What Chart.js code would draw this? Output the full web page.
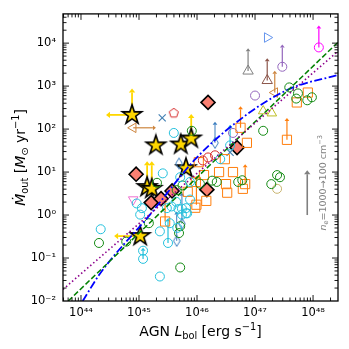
<!DOCTYPE html>
<html>
<head>
<meta charset="utf-8">
<script src="https://cdn.jsdelivr.net/npm/chart.js@4.4.1/dist/chart.umd.min.js"></script>
<style>
  html, body { margin: 0; padding: 0; background: #fff; }
  #c { display: block; }
</style>
</head>
<body>
<canvas id="c" width="349" height="349"></canvas>
<script>
// all values are log10(L_bol / erg s^-1) and log10(Mdot / Msun yr^-1)
const xDecades = [44, 45, 46, 47, 48];
const yDecades = [-2, -1, 0, 1, 2, 3, 4];
const X_MIN = 43.69, X_MAX = 48.43, Y_MIN = -2, Y_MAX = 4.68;

// gold stars
const starL = [44.88, 45.29, 45.72, 45.90, 45.81, 45.14, 45.22, 45.02];
const starM = [2.33, 1.62, 1.64, 1.78, 1.09, 0.65, 0.61, -0.49];
const starUpTo = [2.85, null, null, 2.26, null, 1.16, 1.16, null];
const starLeftTo = [44.50, null, null, null, null, null, null, 44.64];

// salmon diamonds
const diaL = [46.19, 46.69, 44.95, 45.57, 46.17, 45.21, 45.38];
const diaM = [2.62, 1.57, 0.95, 0.56, 0.59, 0.29, 0.38];

// cyan open circles
const cyanL = [44.34, 45.07, 45.36, 45.36, 45.50, 45.53, 45.41, 46.40, 45.74, 45.81, 45.64, 45.88, 45.02, 45.60,
               44.96, 45.05, 45.48, 45.56, 45.68, 45.74, 45.81, 45.83, 45.71, 46.57, 45.88, 45.07, 45.66];
const cyanM = [-0.33, -0.83, -1.43, -0.38, -0.65, -0.19, 0.97, 1.30, 0.15, 0.04, 0.31, 0.36, 0.01, 1.91,
               0.27, 0.16, 0.16, 0.20, 0.14, 0.01, 0.16, 0.04, 0.88, 1.62, 0.77, -1.02, -0.30];
const cyanUpTo = [null, null, null, null, -0.15, null, null, null, null, null, null, null, null, null,
                  null, null, null, null, null, null, null, null, null, 2.03, null, -0.83, null];

// green open circles
const greenL = [44.31, 45.17, 45.71, 45.69, 46.71, 46.34, 46.78, 47.28, 47.38, 47.43, 45.71, 45.31, 45.91, 47.59, 47.74, 47.90, 47.98, 47.71, 47.14,
                45.65, 45.75, 46.05, 46.26, 44.78];
const greenM = [-0.65, -0.19, -1.22, -0.42, 0.77, 0.77, 0.81, 0.72, 0.93, 0.88, -0.26, 0.75, 1.96, 2.97, 2.83, 2.67, 2.74, 2.71, 1.96,
                0.58, 0.69, 0.73, 0.80, -0.62];

// orange open squares
const orL = [46.03, 45.98, 46.12, 46.38, 46.62, 46.50, 46.52, 46.16, 45.84, 45.97, 46.48, 46.83, 46.79, 47.91, 47.72, 47.55,
             45.99, 45.45, 46.75, 46.86];
const orM = [1.23, 0.77, 0.93, 1.00, 1.00, 0.72, 0.52, 0.33, 0.54, 0.17, 1.30, 0.72, 0.61, 2.85, 2.62, 1.75,
             0.24, -0.15, 2.03, 1.68];
const orUpTo = [null, null, null, null, null, null, null, null, null, null, null, 1.11, null, null, null, 2.19,
                0.84, 0.30, 2.46, null];

// red open circles
const redL = [46.19, 46.31, 46.10];
const redM = [1.34, 1.39, 1.27];

// steelblue thin diamonds
const sdL = [45.69, 45.65, 46.31, 45.74];
const sdM = [1.20, -0.60, 1.68, -0.20];
const sdUpTo = [null, 0.01, 2.10, 0.45];

// single samples
const tanL = [44.90, 47.34], tanM = [2.03, 2.85], tanRightTo = [45.24, null], tanUpTo = [null, 3.29];
const crossL = [45.40, 46.57], crossM = [2.26, 1.46];
const pentL = [45.60], pentM = [2.37];
const pinkL = [44.90], pinkM = [0.36];
const cornL = [47.21], cornM = [4.13];
const magL = [48.10], magM = [3.90], magUpTo = [4.34];
const grayL = [46.88], grayM = [3.35], grayUpTo = [3.81];
const brownL = [47.21], brownM = [3.13], brownUpTo = [3.58];
const purpL = [47.47, 47.00, 46.62], purpM = [3.45, 2.78, 1.91], purpUpTo = [3.90, null, null];
const oliveL = [47.14, 47.29], oliveM = [2.42, 2.37];
const khakiL = [47.38], khakiM = [0.61];

// model curves
const blueL = [44.03, 44.33, 45.19, 45.97, 46.71, 47.57, 48.43];
const blueM = [-2.00, -1.36, 0.01, 1.30, 2.19, 2.92, 3.26];
const dashL = [43.78, 48.43];
const dashM = [-2.00, 4.02];
const dotL = [43.69, 48.43];
const dotM = [-1.73, 3.81];

// density arrow (n_e = 1000 -> 100 cm^-3)
const neL = 47.90, neFrom = 0.0, neTo = 0.95, neTextL = 48.16, neTextM = 0.75;

const P = v => Math.pow(10, v);
const pts = (L, M) => L.map((l, i) => ({ x: P(l), y: P(M[i]) }));

function marker(size, draw) {
  const c = document.createElement('canvas');
  c.width = c.height = size;
  const g = c.getContext('2d');
  g.translate(size / 2, size / 2);
  draw(g);
  return c;
}
const starImg = marker(26, g => {
  const R = 10.2, r = R * 0.382;
  g.beginPath();
  for (let k = 0; k < 10; k++) {
    const a = -Math.PI / 2 + k * Math.PI / 5, rr = k % 2 ? r : R;
    g.lineTo(rr * Math.cos(a), rr * Math.sin(a));
  }
  g.closePath();
  g.fillStyle = '#FFD700'; g.fill();
  g.lineWidth = 1.6; g.strokeStyle = '#000'; g.lineJoin = 'miter'; g.stroke();
});
const pentImg = marker(14, g => {
  g.beginPath();
  for (let k = 0; k < 5; k++) {
    const a = -Math.PI / 2 + k * 2 * Math.PI / 5;
    g.lineTo(4.8 * Math.cos(a), 4.8 * Math.sin(a));
  }
  g.closePath(); g.lineWidth = 1; g.strokeStyle = '#d62728'; g.stroke();
});
const thinDiaImg = marker(14, g => {
  g.beginPath();
  g.moveTo(0, -5.5); g.lineTo(3.3, 0); g.lineTo(0, 5.5); g.lineTo(-3.3, 0); g.closePath();
  g.lineWidth = 1; g.strokeStyle = '#3a7dbf'; g.stroke();
});

function scatter(L, M, o) {
  return Object.assign({
    type: 'scatter', data: pts(L, M), pointRadius: 4.5, pointBorderWidth: 1,
    pointBackgroundColor: 'rgba(0,0,0,0)', showLine: false
  }, o);
}
function curve(L, M, color, dash, w) {
  return {
    type: 'scatter', data: pts(L, M), showLine: true, pointRadius: 0, borderColor: color,
    borderWidth: w, borderDash: dash, fill: false, cubicInterpolationMode: 'monotone', tension: 0.4
  };
}

const datasets = [
  curve(dotL, dotM, '#8b008b', [1.5, 2.5], 1.6),
  curve(dashL, dashM, '#008000', [5.5, 2.5], 1.5),
  curve(blueL, blueM, '#0000ff', [8, 2.5, 1.8, 2.5], 1.8),
  scatter(cyanL, cyanM, { pointBorderColor: '#23c0dc', lim: { yTo: cyanUpTo, color: '#23c0dc', lw: 1.2 } }),
  scatter(greenL, greenM, { pointBorderColor: '#138a13' }),
  scatter(redL, redM, { pointBorderColor: '#d62728' }),
  scatter(orL, orM, { pointStyle: 'rect', pointRadius: 6.5, pointBorderColor: '#ff7f0e', lim: { yTo: orUpTo, color: '#ff7f0e', lw: 1.2 } }),
  scatter(sdL, sdM, { pointStyle: thinDiaImg, lim: { yTo: sdUpTo, color: '#3a7dbf', lw: 1 } }),
  scatter(khakiL, khakiM, { pointBorderColor: '#c8b46e' }),
  scatter(oliveL, oliveM, { pointStyle: 'triangle', pointRadius: 5.5, pointBorderColor: '#bcbd22' }),
  scatter(purpL, purpM, { pointBorderColor: '#9467bd', lim: { yTo: purpUpTo, color: '#9467bd', lw: 1.2 } }),
  scatter(magL, magM, { pointBorderColor: '#ff00ff', lim: { yTo: magUpTo, color: '#ff00ff', lw: 1.2 } }),
  scatter(grayL, grayM, { pointStyle: 'triangle', pointRadius: 6, pointBorderColor: '#808080', lim: { yTo: grayUpTo, color: '#808080', lw: 1.2 } }),
  scatter(brownL, brownM, { pointStyle: 'triangle', pointRadius: 6, pointBorderColor: '#8c564b', lim: { yTo: brownUpTo, color: '#8c564b', lw: 1.2 } }),
  scatter(tanL, tanM, { pointStyle: 'triangle', rotation: 270, pointRadius: 5.5, pointBorderColor: '#cd853f', lim: { xTo: tanRightTo, yTo: tanUpTo, color: '#cd853f', lw: 1.2 } }),
  scatter(cornL, cornM, { pointStyle: 'triangle', rotation: 90, pointRadius: 5.5, pointBorderColor: '#6495ed' }),
  scatter(crossL, crossM, { pointStyle: 'crossRot', pointRadius: 5, pointBorderWidth: 1.2, pointBorderColor: '#4682b4' }),
  scatter(pentL, pentM, { pointStyle: pentImg }),
  scatter(pinkL, pinkM, { pointStyle: 'triangle', rotation: 180, pointRadius: 5.5, pointBorderColor: '#ee6fd0' }),
  scatter(diaL, diaM, { pointStyle: 'rectRot', pointRadius: 7, pointBorderWidth: 1.6, pointBorderColor: '#000', pointBackgroundColor: '#fa8072' }),
  scatter(starL, starM, { pointStyle: starImg, lim: { yTo: starUpTo, xTo: starLeftTo, color: '#FFD700', lw: 1.8, head: 4 } })
];

function arrow(ctx, x0, y0, x1, y1, head) {
  ctx.beginPath(); ctx.moveTo(x0, y0); ctx.lineTo(x1, y1); ctx.stroke();
  const a = Math.atan2(y1 - y0, x1 - x0);
  ctx.beginPath();
  ctx.moveTo(x1 + Math.cos(a) * head, y1 + Math.sin(a) * head);
  ctx.lineTo(x1 + Math.cos(a + Math.PI / 2) * head * 0.8, y1 + Math.sin(a + Math.PI / 2) * head * 0.8);
  ctx.lineTo(x1 + Math.cos(a - Math.PI / 2) * head * 0.8, y1 + Math.sin(a - Math.PI / 2) * head * 0.8);
  ctx.closePath(); ctx.fill();
}

const limits = {
  id: 'limits',
  beforeDatasetsDraw(chart) {
    const { ctx, scales: { x, y } } = chart;
    ctx.save();
    ctx.beginPath();
    ctx.rect(chart.chartArea.left, chart.chartArea.top, chart.chartArea.width, chart.chartArea.height);
    ctx.clip();
    chart.data.datasets.forEach(ds => {
      if (!ds.lim) return;
      const l = ds.lim;
      ctx.strokeStyle = l.color; ctx.fillStyle = l.color; ctx.lineWidth = l.lw;
      ds.data.forEach((p, i) => {
        const px = x.getPixelForValue(p.x), py = y.getPixelForValue(p.y);
        if (l.yTo && l.yTo[i] != null) arrow(ctx, px, py, px, y.getPixelForValue(P(l.yTo[i])), l.head || 3);
        if (l.xTo && l.xTo[i] != null) arrow(ctx, px, py, x.getPixelForValue(P(l.xTo[i])), py, l.head || 3);
      });
    });
    ctx.restore();
  }
};

function fontOf(p, size) {
  const s = (p.sub || p.sup) ? size * 0.7 : size;
  return (p.it ? 'italic ' : '') + s + 'px "DejaVu Sans"';
}
function drawRich(ctx, parts, cx, cy, size) {
  let w = 0;
  parts.forEach(p => { ctx.font = fontOf(p, size); w += ctx.measureText(p.t).width; });
  let xx = cx - w / 2;
  ctx.textBaseline = 'alphabetic'; ctx.textAlign = 'left';
  parts.forEach(p => {
    ctx.font = fontOf(p, size);
    const dy = p.sub ? size * 0.22 : p.sup ? -size * 0.42 : 0;
    ctx.fillText(p.t, xx, cy + dy);
    xx += ctx.measureText(p.t).width;
  });
}

const decor = {
  id: 'decor',
  afterDraw(chart) {
    const { ctx, chartArea: a, scales: { x, y } } = chart;
    ctx.save();
    ctx.strokeStyle = '#000'; ctx.lineWidth = 0.9;
    const seg = (x0, y0, x1, y1) => { ctx.beginPath(); ctx.moveTo(x0, y0); ctx.lineTo(x1, y1); ctx.stroke(); };
    for (let d = 43; d <= 48; d++) for (let m = 1; m <= 9; m++) {
      const px = x.getPixelForValue(m * P(d));
      if (px < a.left + 0.5 || px > a.right - 0.5) continue;
      const len = m === 1 ? 6 : 3.5;
      seg(px, a.bottom, px, a.bottom - len); seg(px, a.top, px, a.top + len);
    }
    for (let d = -2; d <= 4; d++) for (let m = 1; m <= 9; m++) {
      const py = y.getPixelForValue(m * P(d));
      if (py > a.bottom - 0.5 || py < a.top + 0.5) continue;
      const len = m === 1 ? 6 : 3.5;
      seg(a.left, py, a.left + len, py); seg(a.right, py, a.right - len, py);
    }
    ctx.lineWidth = 1.3;
    ctx.strokeRect(a.left, a.top, a.right - a.left, a.bottom - a.top);

    // density shift arrow and label
    ctx.strokeStyle = '#808080'; ctx.fillStyle = '#808080'; ctx.lineWidth = 1.6;
    const ax = x.getPixelForValue(P(neL));
    arrow(ctx, ax, y.getPixelForValue(P(neFrom)), ax, y.getPixelForValue(P(neTo)), 4);
    ctx.save();
    ctx.translate(x.getPixelForValue(P(neTextL)), y.getPixelForValue(P(neTextM)));
    ctx.rotate(-Math.PI / 2);
    drawRich(ctx, [{ t: 'n', it: true }, { t: 'e', sub: true }, { t: '=1000\u2192100 cm' }, { t: '\u22123', sup: true }], 0, 3.5, 9.5);
    ctx.restore();

    // axis titles
    ctx.fillStyle = '#000';
    drawRich(ctx, [{ t: 'AGN ' }, { t: 'L', it: true }, { t: 'bol', sub: true }, { t: ' [erg s' }, { t: '\u22121', sup: true }, { t: ']' }],
      (a.left + a.right) / 2, 336, 14);
    ctx.save();
    ctx.translate(25, (a.top + a.bottom) / 2);
    ctx.rotate(-Math.PI / 2);
    drawRich(ctx, [{ t: '\u1E40', it: true }, { t: 'out', sub: true }, { t: ' [' }, { t: 'M', it: true }, { t: '\u2299', sub: true },
      { t: ' yr' }, { t: '\u22121', sup: true }, { t: ']' }], 0, 0, 14);
    ctx.restore();
    ctx.restore();
  }
};

const supDigits = { '-': '\u207B', '0': '\u2070', '1': '\u00B9', '2': '\u00B2', '3': '\u00B3', '4': '\u2074', '5': '\u2075', '6': '\u2076', '7': '\u2077', '8': '\u2078', '9': '\u2079' };
const sup = n => String(n).split('').map(ch => supDigits[ch]).join('');
const tickFont = { family: 'DejaVu Sans', size: 11.5 };

new Chart(document.getElementById('c'), {
  type: 'scatter',
  data: { datasets },
  options: {
    responsive: false,
    animation: false,
    devicePixelRatio: 1,
    layout: { padding: { left: 0, right: 11, top: 9, bottom: 0 } },
    plugins: { legend: { display: false }, tooltip: { enabled: false } },
    scales: {
      x: {
        type: 'logarithmic', min: P(X_MIN), max: P(X_MAX),
        grid: { display: false, drawTicks: false }, border: { display: false },
        afterBuildTicks: s => { s.ticks = xDecades.map(d => ({ value: P(d) })); },
        afterFit: s => { s.height = 48; },
        ticks: { callback: v => '10' + sup(Math.round(Math.log10(v))), font: tickFont, color: '#000', padding: 5, maxRotation: 0, autoSkip: false }
      },
      y: {
        type: 'logarithmic', min: P(Y_MIN), max: P(Y_MAX),
        grid: { display: false, drawTicks: false }, border: { display: false },
        afterBuildTicks: s => { s.ticks = yDecades.map(d => ({ value: P(d) })); },
        afterFit: s => { s.width = 63; },
        ticks: { callback: v => '10' + sup(Math.round(Math.log10(v))), font: tickFont, color: '#000', padding: 7, autoSkip: false }
      }
    }
  },
  plugins: [limits, decor]
});
</script>
</body>
</html>
